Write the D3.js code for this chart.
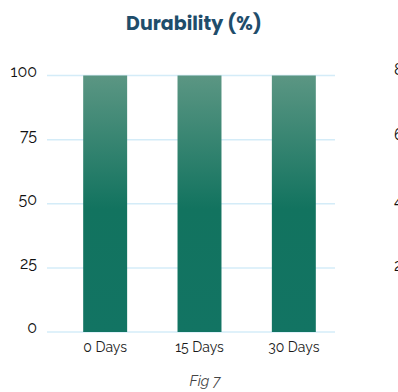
<!DOCTYPE html>
<html>
<head>
<meta charset="utf-8">
<script src="https://cdn.jsdelivr.net/npm/d3@7/dist/d3.min.js"></script>
<style>
  html, body { margin: 0; padding: 0; background: #fff; overflow: hidden; }
  svg { display: block; }
</style>
</head>
<body>
<svg id="chart" width="398" height="392"></svg>
<script>
// Durability data
const categories = ["0 Days", "15 Days", "30 Days"];
const durability = [100, 100, 100];
const yTicks = [0, 25, 50, 75, 100];
// Tick labels of the neighbouring panel, clipped at the right edge
const sideTicks = ["8", "6", "4", "2"];

const svg = d3.select("#chart");

const y = d3.scaleLinear().domain([0, 100]).range([332, 75.5]);
const x = d3.scaleBand().domain(categories).range([58, 341]).paddingInner(0.534).paddingOuter(0.267);

// gradient for the bars: lighter at top, solid teal from the middle down
const defs = svg.append("defs");
const grad = defs.append("linearGradient")
  .attr("id", "barGrad").attr("x1", 0).attr("y1", 0).attr("x2", 0).attr("y2", 1);
grad.append("stop").attr("offset", "0%").attr("stop-color", "#5b9683");
grad.append("stop").attr("offset", "52%").attr("stop-color", "#12735f");
grad.append("stop").attr("offset", "100%").attr("stop-color", "#127463");

// title
svg.append("text")
  .attr("x", 194).attr("y", 30)
  .attr("text-anchor", "middle")
  .attr("font-family", "Poppins, 'Noto Sans', sans-serif")
  .attr("font-weight", 700)
  .attr("font-size", 19)
  .attr("fill", "#1f4d6b")
  .text("Durability (%)");

// grid lines
const gridX0 = 47, gridX1 = 335;
svg.append("g").selectAll("line").data(yTicks).join("line")
  .attr("x1", gridX0).attr("x2", gridX1)
  .attr("y1", d => y(d)).attr("y2", d => y(d))
  .attr("stroke", "#d4ecf8").attr("stroke-width", 1.5);

// y-axis labels
svg.append("g").selectAll("text").data(yTicks).join("text")
  .attr("x", 37).attr("y", d => y(d) + 1)
  .attr("text-anchor", "end")
  .attr("font-family", "Raleway, Lato, sans-serif")
  .attr("font-weight", 400)
  .attr("font-size", 16)
  .attr("fill", "#111")
  .text(d => d);

// bars
svg.append("g").selectAll("rect").data(categories).join("rect")
  .attr("x", d => x(d))
  .attr("width", x.bandwidth())
  .attr("y", (d, i) => y(durability[i]))
  .attr("height", (d, i) => y(0) - y(durability[i]))
  .attr("fill", "url(#barGrad)");

// x labels
svg.append("g").selectAll("text").data(categories).join("text")
  .attr("x", d => x(d) + x.bandwidth() / 2)
  .attr("y", 352)
  .attr("text-anchor", "middle")
  .attr("font-family", "Raleway, Lato, sans-serif")
  .attr("font-weight", 400)
  .attr("font-size", 14)
  .attr("fill", "#1a1a1a")
  .text(d => d);

// caption
svg.append("text")
  .attr("x", 205).attr("y", 386)
  .attr("text-anchor", "middle")
  .attr("font-family", "Raleway, Lato, sans-serif")
  .attr("font-style", "italic")
  .attr("font-size", 14.5)
  .attr("fill", "#444")
  .text("Fig 7");

// neighbouring panel's axis labels, cut by the edge
const ySide = d3.scalePoint().domain(sideTicks).range([75, 271]);
svg.append("g").selectAll("text").data(sideTicks).join("text")
  .attr("x", 394).attr("y", d => ySide(d))
  .attr("font-family", "Raleway, Lato, sans-serif")
  .attr("font-weight", 400)
  .attr("font-size", 16)
  .attr("fill", "#111")
  .text(d => d);
</script>
</body>
</html>
